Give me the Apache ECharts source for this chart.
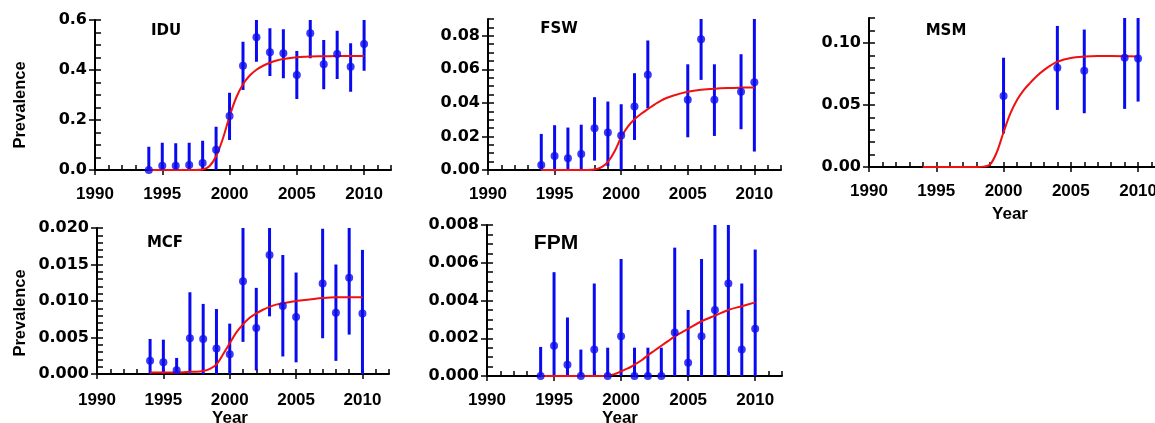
<!DOCTYPE html>
<html><head><meta charset="utf-8">
<script src="https://cdn.jsdelivr.net/npm/echarts@6/dist/echarts.min.js"></script>
<style>html,body{margin:0;padding:0;background:#fff}#c{width:1155px;height:423px}</style>
</head><body><div id="c"></div>
<script>
// ---------- data ----------
const xTickLabels = [1990, 1995, 2000, 2005, 2010];
// years at which the fitted (red) curves were read
const fitYears = [1994,1995,1996,1997,1997.5,1998,1998.5,1999,1999.5,2000,2000.5,2001,2001.5,2002,2002.5,2003,2003.5,2004,2005,2006,2007,2008,2009,2010];

// IDU
const iduYears = [1994,1995,1996,1997,1998,1999,2000,2001,2002,2003,2004,2005,2006,2007,2008,2009,2010];
const iduPrev  = [0,0.017,0.017,0.020,0.028,0.081,0.216,0.417,0.531,0.471,0.467,0.380,0.547,0.423,0.464,0.413,0.504];
const iduLo    = [0,0,0,0,0,0,0.120,0.320,0.433,0.376,0.367,0.284,0.447,0.323,0.364,0.313,0.397];
const iduHi    = [0.093,0.109,0.107,0.109,0.117,0.173,0.309,0.513,0.61,0.567,0.563,0.476,0.61,0.520,0.557,0.507,0.61];
const iduFit   = [0,0,0,0,0,0.002,0.015,0.055,0.125,0.215,0.29,0.343,0.378,0.401,0.417,0.429,0.438,0.444,0.451,0.454,0.455,0.456,0.456,0.456];
const iduYTicks = [0, 0.2, 0.4, 0.6];

// FSW
const fswYears = [1994,1995,1996,1997,1998,1999,2000,2001,2002,2005,2006,2007,2009,2010];
const fswPrev  = [0.003,0.0084,0.007,0.0096,0.0249,0.0223,0.0205,0.0378,0.0567,0.0418,0.078,0.0418,0.0466,0.0523];
const fswLo    = [0,0,0,0,0.0056,0.0024,0,0.0179,0.0368,0.0195,0.0537,0.0203,0.0243,0.011];
const fswHi    = [0.0215,0.0267,0.0253,0.027,0.0434,0.0408,0.0392,0.0577,0.0772,0.063,0.092,0.063,0.069,0.092];
const fswFit   = [0,0,0,0,0,0.0003,0.0015,0.0048,0.011,0.0195,0.0258,0.0302,0.0335,0.0363,0.039,0.0414,0.0432,0.0446,0.0466,0.0478,0.0485,0.0489,0.0491,0.0492];
const fswYTicks = [0, 0.02, 0.04, 0.06, 0.08];

// MSM
const msmYears = [2000,2004,2006,2009,2010];
const msmPrev  = [0.0572,0.080,0.0775,0.088,0.0874];
const msmLo    = [0.027,0.046,0.0433,0.0468,0.0527];
const msmHi    = [0.088,0.1136,0.1107,0.123,0.123];
const msmFit   = [0,0,0,0,0,0,0.0003,0.002,0.012,0.028,0.043,0.054,0.062,0.068,0.0735,0.078,0.0818,0.0848,0.0878,0.0889,0.0893,0.0893,0.0892,0.089];
const msmYTicks = [0, 0.05, 0.10];

// MCF
const mcfYears = [1994,1995,1996,1997,1998,1999,2000,2001,2002,2003,2004,2005,2007,2008,2009,2010];
const mcfPrev  = [0.0018,0.0016,0.0005,0.0049,0.0048,0.0035,0.0027,0.0127,0.0063,0.0163,0.0093,0.0078,0.0124,0.0084,0.0132,0.0083];
const mcfLo    = [0,0,0,0,0,0,0,0.0044,0.0005,0.0079,0.0024,0.0016,0.0049,0.0018,0.0054,0];
const mcfHi    = [0.0048,0.0047,0.0022,0.0112,0.0096,0.0089,0.0069,0.0205,0.0118,0.0205,0.0163,0.0139,0.0199,0.015,0.0205,0.017];
const mcfFit   = [0.0002,0.0002,0.0002,0.0003,0.0003,0.0004,0.0007,0.0013,0.0027,0.0042,0.0057,0.0068,0.0077,0.0083,0.0088,0.0092,0.0095,0.0097,0.0100,0.0102,0.0104,0.0105,0.0105,0.0105];
const mcfYTicks = [0, 0.005, 0.010, 0.015, 0.020];

// FPM
const fpmYears = [1994,1995,1996,1997,1998,1999,2000,2001,2002,2003,2004,2005,2006,2007,2008,2009,2010];
const fpmPrev  = [0,0.0016,0.0006,0,0.0014,0,0.0021,0,0,0,0.0023,0.0007,0.0021,0.0035,0.0049,0.0014,0.0025];
const fpmLo    = [0,0,0,0,0,0,0,0,0,0,0,0,0,0,0,0,0];
const fpmHi    = [0.00154,0.0055,0.0031,0.0014,0.0049,0.0015,0.0062,0.0015,0.0015,0.0015,0.0068,0.0035,0.0062,0.0082,0.0082,0.0049,0.0067];
const fpmFit   = [0,0,0,0,0,0,0,0.00003,0.0001,0.00025,0.0004,0.0006,0.00082,0.0011,0.00135,0.0016,0.00185,0.0021,0.0025,0.0029,0.0032,0.0035,0.0037,0.0039];
const fpmYTicks = [0, 0.002, 0.004, 0.006, 0.008];

// ---------- layout / style ----------
const panels = [
  {years:iduYears, prev:iduPrev, lo:iduLo, hi:iduHi, fit:iduFit, yt:iduYTicks, yMax:0.6,  minor:0.05,   dec:1, xm:16, grid:{left:95, top:20, width:296, height:150}},
  {years:fswYears, prev:fswPrev, lo:fswLo, hi:fswHi, fit:fswFit, yt:fswYTicks, yMax:0.09, minor:0.005,  dec:2, xm:16, grid:{left:488,top:19, width:293, height:151}},
  {years:msmYears, prev:msmPrev, lo:msmLo, hi:msmHi, fit:msmFit, yt:msmYTicks, yMax:0.12, minor:0.01,   dec:2, xm:16, grid:{left:869,top:18, width:296, height:149}},
  {years:mcfYears, prev:mcfPrev, lo:mcfLo, hi:mcfHi, fit:mcfFit, yt:mcfYTicks, yMax:0.02, minor:0.001,  dec:3, xm:18, grid:{left:97, top:228,width:292, height:146}},
  {years:fpmYears, prev:fpmPrev, lo:fpmLo, hi:fpmHi, fit:fpmFit, yt:fpmYTicks, yMax:0.008,minor:0.0005, dec:3, xm:16, grid:{left:487,top:225,width:295, height:151}}
];

const BLUE = '#0a0af0', RED = '#f01010';
const grids = [], xAxes = [], yAxes = [], series = [];
panels.forEach((p, i) => {
  grids.push(Object.assign({outerBoundsMode:'none', containLabel:false}, p.grid));
  xAxes.push({type:'value', gridIndex:i, position:'bottom', min:1990, max:2012, interval:1,
    axisLine:{show:true, onZero:false, lineStyle:{color:'#000', width:2}},
    axisTick:{show:true, inside:true, length:5, lineStyle:{color:'#000', width:1.5}},
    minorTick:{show:false}, splitLine:{show:false},
    axisLabel:{show:true, customValues:xTickLabels, margin:p.xm, color:'#000', fontSize:17, fontWeight:'bold', fontFamily:'Liberation Sans', formatter:v=>String(v)}});
  xAxes.push({type:'value', gridIndex:i, position:'bottom', min:1990, max:2012, interval:5,
    axisLine:{show:false, onZero:false}, axisLabel:{show:false}, splitLine:{show:false},
    axisTick:{show:true, inside:false, length:5, customValues:xTickLabels, lineStyle:{color:'#000', width:1.5}}});
  yAxes.push({type:'value', gridIndex:i, position:'left', min:0, max:p.yMax, interval:p.minor,
    axisLine:{show:true, onZero:false, lineStyle:{color:'#000', width:2}},
    axisTick:{show:true, inside:true, length:6, lineStyle:{color:'#000', width:1.5}},
    splitLine:{show:false},
    axisLabel:{show:true, customValues:p.yt, margin:8, color:'#000', fontSize:16, fontWeight:'bold', fontFamily:'DejaVu Sans', formatter:v=>v.toFixed(p.dec)}});
  yAxes.push({type:'value', gridIndex:i, position:'left', min:0, max:p.yMax, interval:p.minor,
    axisLine:{show:false, onZero:false}, axisLabel:{show:false}, splitLine:{show:false},
    axisTick:{show:true, inside:false, length:6, customValues:p.yt, lineStyle:{color:'#000', width:1.5}}});
  const xi = 2*i, yi = 2*i;
  series.push({type:'custom', xAxisIndex:xi, yAxisIndex:yi, clip:true, z:2,
    data:p.years.map((y,k)=>[y, p.lo[k], p.hi[k]]),
    renderItem:(params, api) => {
      const a = api.coord([api.value(0), api.value(1)]);
      const b = api.coord([api.value(0), api.value(2)]);
      return {type:'line', shape:{x1:a[0], y1:a[1], x2:b[0], y2:b[1]}, style:{stroke:BLUE, lineWidth:3}};
    }});
  series.push({type:'line', xAxisIndex:xi, yAxisIndex:yi, clip:true, z:3, smooth:0.35,
    symbol:'none', lineStyle:{color:RED, width:2}, data:fitYears.map((y,k)=>[y, p.fit[k]])});
  series.push({type:'scatter', xAxisIndex:xi, yAxisIndex:yi, z:4, symbol:'circle', symbolSize:8,
    itemStyle:{color:BLUE}, data:p.years.map((y,k)=>[y, p.prev[k]])});
});

const T = (text, x, y, size, family, rot) => ({type:'text', x, y, rotation:rot||0, z:10,
  style:{text, fill:'#000', fontSize:size, fontWeight:'bold', fontFamily:family, align:'center', verticalAlign:'middle'}});

const graphic = [
  T('IDU', 166, 31, 15, 'DejaVu Sans'),
  T('FSW', 559, 29, 15, 'DejaVu Sans'),
  T('MSM', 946, 31, 15, 'DejaVu Sans'),
  T('MCF', 165, 243, 15, 'DejaVu Sans'),
  T('FPM', 556, 243, 21, 'Liberation Sans'),
  T('Prevalence', 20, 105, 16.5, 'Liberation Sans', Math.PI/2),
  T('Prevalence', 20, 313, 16.5, 'Liberation Sans', Math.PI/2),
  T('Year', 1010, 214, 17, 'Liberation Sans'),
  T('Year', 230, 418, 17, 'Liberation Sans'),
  T('Year', 620, 418, 17, 'Liberation Sans')
];

const chart = echarts.init(document.getElementById('c'), null, {renderer:'canvas'});
chart.setOption({animation:false, backgroundColor:'#fff', grid:grids, xAxis:xAxes, yAxis:yAxes, series, graphic});
</script>
</body></html>
